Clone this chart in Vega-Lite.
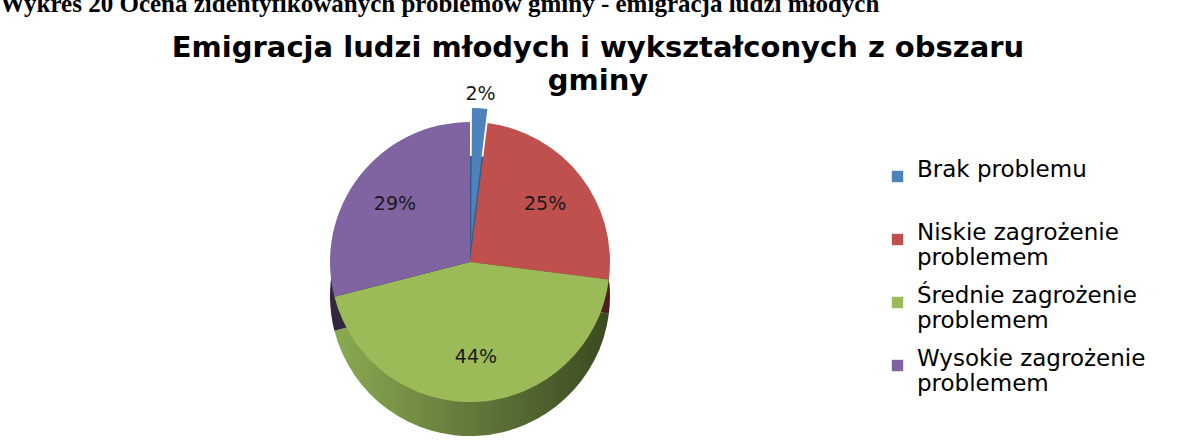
{
  "$schema": "https://vega.github.io/schema/vega-lite/v6.json",
  "padding": {"left": 0, "top": -8, "right": 0, "bottom": 0},
  "background": "white",
  "title": {
    "text": "Wykres 20 Ocena zidentyfikowanych problemów gminy - emigracja ludzi młodych",
    "font": "Liberation Serif",
    "fontSize": 25,
    "fontWeight": "bold",
    "color": "#000000",
    "anchor": "start",
    "frame": "bounds",
    "offset": 17
  },
  "spacing": 0,
  "config": {"view": {"stroke": null}},
  "vconcat": [
    {
      "width": 940,
      "height": 360,
      "title": {
        "text": ["Emigracja ludzi młodych i wykształconych z obszaru", "gminy"],
        "font": "DejaVu Sans",
        "fontSize": 29,
        "fontWeight": "bold",
        "color": "#000000",
        "lineHeight": 33,
        "anchor": "middle",
        "dx": 128,
        "offset": -14
      },
      "data": {
        "values": [
          {"kategoria": "Brak problemu", "udzial": 0.02},
          {"kategoria": "Niskie zagrożenie problemem", "udzial": 0.25},
          {"kategoria": "Średnie zagrożenie problemem", "udzial": 0.44},
          {"kategoria": "Wysokie zagrożenie problemem", "udzial": 0.29}
        ]
      },
      "transform": [{"window": [{"op": "row_number", "as": "lp"}]}],
      "encoding": {
        "theta": {"field": "udzial", "type": "quantitative", "stack": true},
        "order": {"field": "lp", "type": "quantitative"}
      },
      "layer": [
        {
          "mark": {"type": "arc", "outerRadius": 140, "yOffset": 34},
          "encoding": {
            "fill": {
              "condition": [
                {"test": "datum.kategoria == 'Brak problemu'", "value": "#385d8a"},
                {"test": "datum.kategoria == 'Niskie zagrożenie problemem'", "value": "#4d1f1e"},
                {"test": "datum.kategoria == 'Wysokie zagrożenie problemem'", "value": "#33263f"}
              ],
              "value": {
                "gradient": "linear",
                "x1": 0, "y1": 0, "x2": 1, "y2": 0,
                "stops": [
                  {"offset": 0, "color": "#8aaa52"},
                  {"offset": 0.5, "color": "#62793a"},
                  {"offset": 1, "color": "#3b4a21"}
                ]
              }
            }
          }
        },
        {
          "mark": {"type": "arc", "outerRadius": 140},
          "encoding": {
            "color": {
              "field": "kategoria",
              "type": "nominal",
              "scale": {
                "domain": ["Brak problemu", "Niskie zagrożenie problemem", "Średnie zagrożenie problemem", "Wysokie zagrożenie problemem"],
                "range": ["#4f81bd", "#c0504d", "#9bbb59", "#8064a2"]
              },
              "legend": {
                "orient": "none",
                "legendX": 886,
                "legendY": 83,
                "title": null,
                "symbolType": "square",
                "symbolSize": 130,
                "symbolStrokeWidth": 0,
                "labelFont": "DejaVu Sans",
                "labelFontSize": 23,
                "labelColor": "#000000",
                "labelBaseline": "alphabetic",
                "labelOffset": 8,
                "labelLimit": 400,
                "rowPadding": 14,
                "padding": 0,
                "labelExpr": "datum.label == 'Brak problemu' ? ['Brak problemu', ' '] : [replace(datum.label, ' problemem', ''), 'problemem']"
              }
            },
            "fillOpacity": {
              "condition": {"test": "datum.kategoria == 'Brak problemu'", "value": 0},
              "value": 1
            }
          }
        },
        {
          "mark": {"type": "arc", "outerRadius": 154, "innerRadius": 20, "padAngle": 0.025},
          "encoding": {
            "color": {"field": "kategoria", "type": "nominal"},
            "fillOpacity": {
              "condition": {"test": "datum.kategoria == 'Brak problemu'", "value": 1},
              "value": 0
            }
          }
        },
        {
          "mark": {"type": "text", "radius": 95, "font": "DejaVu Sans", "fontSize": 19, "color": "#1a1a1a"},
          "encoding": {
            "text": {
              "condition": {"test": "datum.kategoria == 'Brak problemu'", "value": ""},
              "field": "udzial",
              "type": "quantitative",
              "format": ".0%"
            }
          }
        },
        {
          "mark": {"type": "text", "radius": 168, "font": "DejaVu Sans", "fontSize": 19, "color": "#1a1a1a"},
          "encoding": {
            "text": {
              "condition": {"test": "datum.kategoria != 'Brak problemu'", "value": ""},
              "field": "udzial",
              "type": "quantitative",
              "format": ".0%"
            }
          }
        }
      ]
    }
  ]
}
